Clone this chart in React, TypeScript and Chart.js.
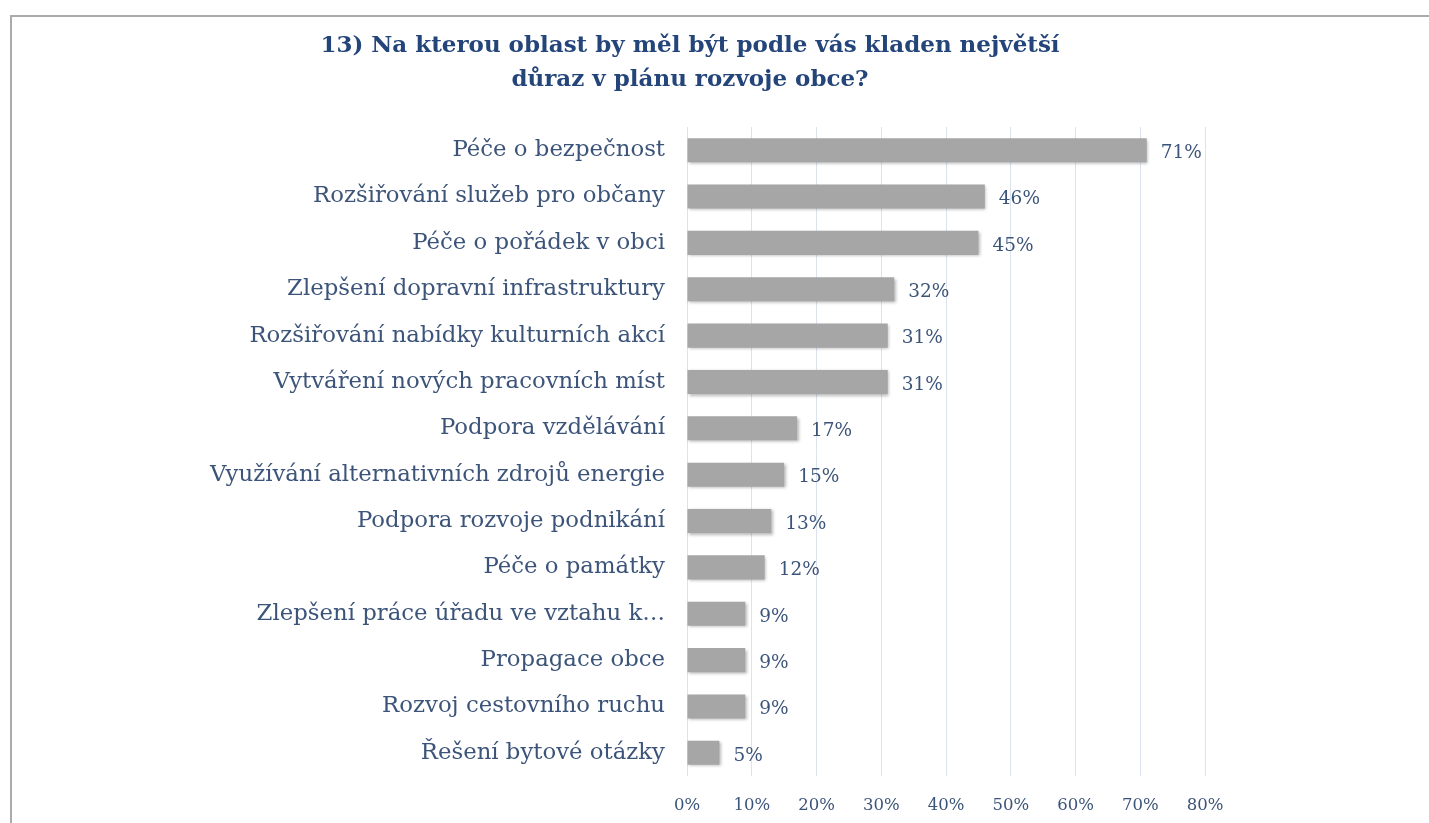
import React, { useEffect, useRef } from "react";
import { Chart, registerables } from "chart.js";

Chart.register(...registerables);

const categories = [
  "Péče o bezpečnost",
  "Rozšiřování služeb pro občany",
  "Péče o pořádek v obci",
  "Zlepšení dopravní infrastruktury",
  "Rozšiřování nabídky kulturních akcí",
  "Vytváření nových pracovních míst",
  "Podpora vzdělávání",
  "Využívání alternativních zdrojů energie",
  "Podpora rozvoje podnikání",
  "Péče o památky",
  "Zlepšení práce úřadu ve vztahu k…",
  "Propagace obce",
  "Rozvoj cestovního ruchu",
  "Řešení bytové otázky",
];
const values = [71, 46, 45, 32, 31, 31, 17, 15, 13, 12, 9, 9, 9, 5];
const titleLines = [
  "13) Na kterou oblast by měl být podle vás kladen největší",
  "důraz v plánu rozvoje obce?",
];
const xMax = 80;
const xStep = 10;

const FONT = "'DejaVu Serif', serif";
const TITLE_COLOR = "#24457a";
const TEXT_COLOR = "#3c5479";

export default function App() {
  const ref = useRef<HTMLCanvasElement | null>(null);
  useEffect(() => {
    document.body.style.margin = "0";
    const canvas = ref.current!;
    const framePlugin = {
      id: "frame",
      beforeDraw(chart: any) {
        const ctx = chart.ctx;
        ctx.save();
        ctx.fillStyle = "#ffffff";
        ctx.fillRect(0, 0, chart.width, chart.height);
        ctx.strokeStyle = "#ababab";
        ctx.lineWidth = 2;
        ctx.beginPath();
        ctx.moveTo(11, chart.height + 5);
        ctx.lineTo(11, 16);
        ctx.lineTo(chart.width + 5, 16);
        ctx.stroke();
        ctx.restore();
      },
      afterDraw(chart: any) {
        const ctx = chart.ctx;
        ctx.save();
        ctx.fillStyle = TITLE_COLOR;
        ctx.font = `bold 23px ${FONT}`;
        ctx.textAlign = "center";
        ctx.textBaseline = "middle";
        titleLines.forEach((t, i) => ctx.fillText(t, 690, 46 + i * 34));
        ctx.restore();
      },
    };
    const shadowPlugin = {
      id: "barShadow",
      beforeDatasetDraw(chart: any) {
        const ctx = chart.ctx;
        ctx.save();
        ctx.shadowColor = "rgba(0,0,0,0.28)";
        ctx.shadowBlur = 3;
        ctx.shadowOffsetX = 1.5;
        ctx.shadowOffsetY = 1.5;
      },
      afterDatasetDraw(chart: any) {
        chart.ctx.restore();
      },
    };
    const labelPlugin = {
      id: "valueLabels",
      afterDatasetsDraw(chart: any) {
        const ctx = chart.ctx;
        const meta = chart.getDatasetMeta(0);
        ctx.save();
        ctx.fillStyle = TEXT_COLOR;
        ctx.font = `18.5px ${FONT}`;
        ctx.textAlign = "left";
        ctx.textBaseline = "middle";
        meta.data.forEach((el: any, i: number) => {
          ctx.fillText(values[i] + "%", el.x + 14, el.y + 3);
        });
        ctx.restore();
      },
    };
    const chart = new Chart(canvas, {
      type: "bar",
      data: {
        labels: categories,
        datasets: [
          {
            data: values,
            backgroundColor: "#a6a6a6",
            borderWidth: 0,
            categoryPercentage: 1,
            barPercentage: 0.52,
          },
        ],
      },
      options: {
        indexAxis: "y",
        animation: false,
        responsive: false,
        layout: { padding: { top: 127, right: 224, bottom: 5, left: 0 } },
        plugins: {
          legend: { display: false },
          tooltip: { enabled: false },
          title: { display: false },
        },
        scales: {
          x: {
            min: 0,
            max: xMax,
            ticks: {
              stepSize: xStep,
              callback: (v: any) => v + "%",
              color: TEXT_COLOR,
              font: { family: FONT, size: 16.5 },
              padding: 20,
            },
            grid: { color: "#dbe3ef", drawTicks: false, lineWidth: 1 },
            border: { display: false },
            afterFit(scale: any) {
              scale.height = 42;
            },
          },
          y: {
            ticks: {
              color: TEXT_COLOR,
              font: { family: FONT, size: 22.8 },
              padding: 22,
              autoSkip: false,
            },
            grid: { display: false, drawTicks: false },
            border: { display: false },
            afterFit(scale: any) {
              scale.width = 687;
            },
          },
        },
      },
      plugins: [framePlugin, shadowPlugin, labelPlugin],
    });
    return () => chart.destroy();
  }, []);
  return <canvas ref={ref} width={1429} height={823} style={{ display: "block" }} />;
}
